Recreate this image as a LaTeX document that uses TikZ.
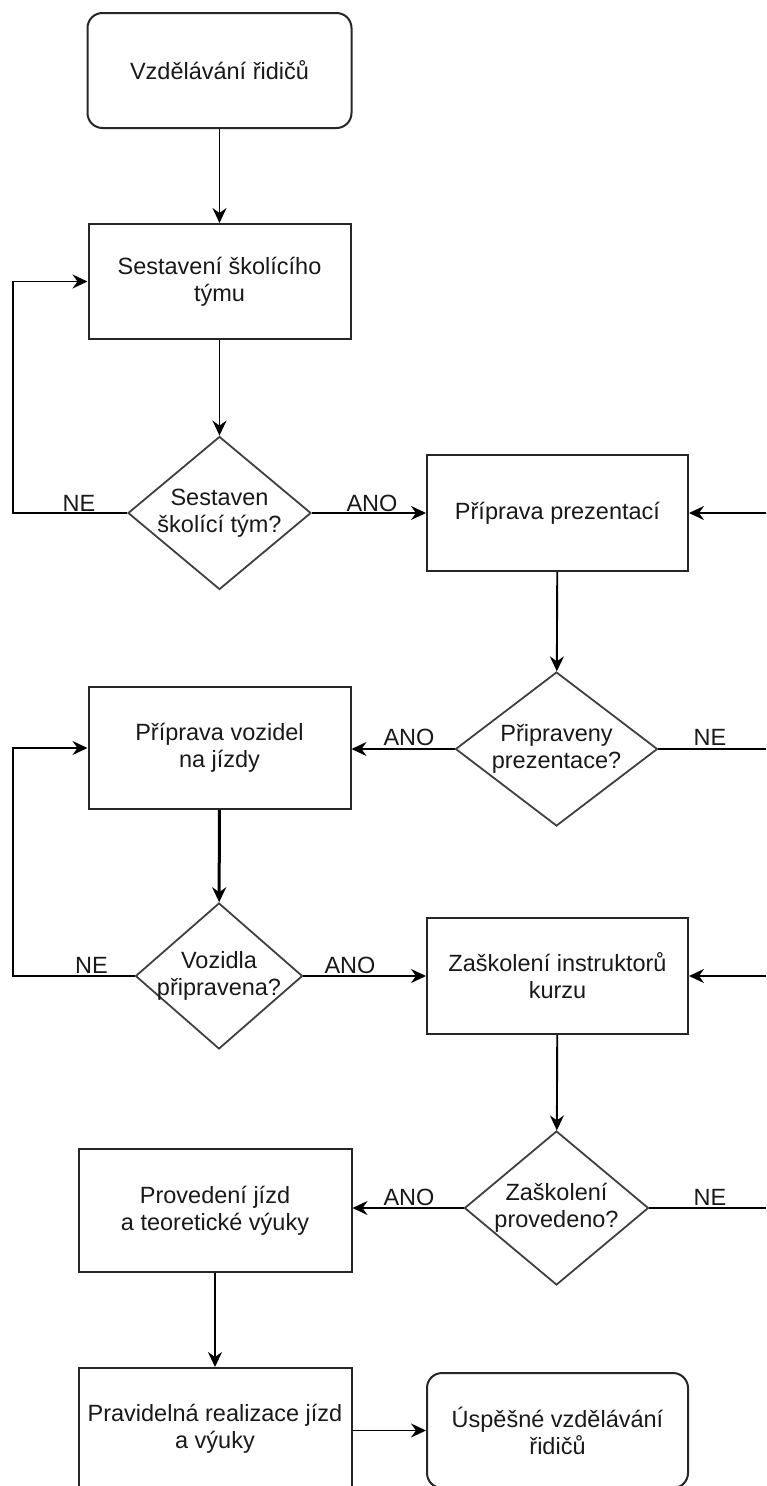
\documentclass[tikz,border=0pt]{standalone}
\usepackage{fontspec}
\setmainfont{Liberation Sans}
\usetikzlibrary{arrows.meta,shapes.geometric}
\begin{document}
\begin{tikzpicture}[x=1pt,y=-1pt,
  base/.style={font=\fontsize{23.5}{27}\selectfont, text=black!90, align=center, inner sep=0pt},
  procbox/.style={base, draw=black!85, line width=2pt, rectangle},
  termbox/.style={procbox, rounded corners=15pt},
  dia/.style={draw=black!75, line width=1.8pt, shape=diamond, inner sep=0pt},
  txt/.style={base},
  lbl/.style={font=\fontsize{23.5}{27}\selectfont, text=black!90, inner sep=0pt, anchor=base},
  conn/.style={draw=black, line width=1.9pt, -{Stealth[length=15pt,width=14pt,inset=5pt]}},
  plain/.style={draw=black, line width=1.9pt}
]
\useasboundingbox (0,0) rectangle (766,1486);
\fill[white] (0,0) rectangle (766,1486);

% nodes
\node[termbox, minimum width=264pt, minimum height=115pt] (start) at (219.5,70.5) {Vzdělávání řidičů};
\node[procbox, minimum width=262pt, minimum height=115pt] (b1) at (219.5,281.5) {Sestavení školícího\\týmu};
\node[dia, minimum width=183pt, minimum height=153pt] (d1) at (219.5,513) {};
\node[txt] (d1t) at (d1) {Sestaven\\školící tým?};

\node[procbox, minimum width=261pt, minimum height=116pt] (b2) at (557.5,513) {Příprava prezentací};
\node[dia, minimum width=202pt, minimum height=154pt] (d2) at (556.5,749) {};
\node[txt] (d2t) at (d2) {Připraveny\\prezentace?};

\node[procbox, minimum width=262pt, minimum height=122pt] (b3) at (219.5,748) {Příprava vozidel\\na jízdy};
\node[dia, minimum width=167pt, minimum height=146pt] (d3) at (219,976) {};
\node[txt] (d3t) at (d3) {Vozidla\\připravena?};

\node[procbox, minimum width=261pt, minimum height=116pt] (b4) at (557.5,976) {Zaškolení instruktorů\\kurzu};
\node[dia, minimum width=184pt, minimum height=154pt] (d4) at (556.5,1208) {};
\node[txt] (d4t) at (d4) {Zaškolení\\provedeno?};

\node[procbox, minimum width=273pt, minimum height=123pt] (b5) at (215,1210.5) {Provedení jízd\\a teoretické výuky};
\node[procbox, minimum width=273pt, minimum height=122pt] (b6) at (215,1429) {Pravidelná realizace jízd\\a výuky};
\node[termbox, minimum width=261pt, minimum height=115pt] (end) at (557.5,1430.5) {Úspěšné vzdělávání\\řidičů};

% free ends
\coordinate (l1) at (13,513);
\coordinate (l3) at (13,976);
\coordinate (r1) at (766,513);
\coordinate (r2) at (766,749);
\coordinate (r3) at (766,976);
\coordinate (r4) at (766,1208);

% connectors
\draw[conn] (start) -- (b1);
\draw[conn] (b1) -- (d1);
\draw[conn] (d1.west) -- (l1) |- (b1.west);
\draw[conn] (d1.east) -- (b2.west);
\draw[conn] (r1) -- (b2.east);
\draw[conn] (b2) -- (d2);
\draw[conn] (d2.west) -- (d2.west -| b3.east);
\draw[plain] (d2.east) -- (r2);
\draw[conn, line width=3pt] (b3) -- (d3);
\draw[conn] (d3.west) -- (l3) |- (b3.west);
\draw[conn] (d3.east) -- (b4.west);
\draw[conn] (r3) -- (b4.east);
\draw[conn] (b4) -- (d4);
\draw[conn] (d4.west) -- (d4.west -| b5.east);
\draw[plain] (d4.east) -- (r4);
\draw[conn] (b5) -- (b6);
\draw[conn] (b6.east |- end.west) -- (end.west);

% labels
\node[lbl] (n1) at (79,511) {NE};
\node[lbl] (a1) at (372,511) {ANO};
\node[lbl] (a2) at (409,745) {ANO};
\node[lbl] (n2) at (710,745) {NE};
\node[lbl] (n3) at (91.5,973) {NE};
\node[lbl] (a3) at (350,973) {ANO};
\node[lbl] (a4) at (409,1205) {ANO};
\node[lbl] (n4) at (710,1205) {NE};
\end{tikzpicture}
\end{document}
